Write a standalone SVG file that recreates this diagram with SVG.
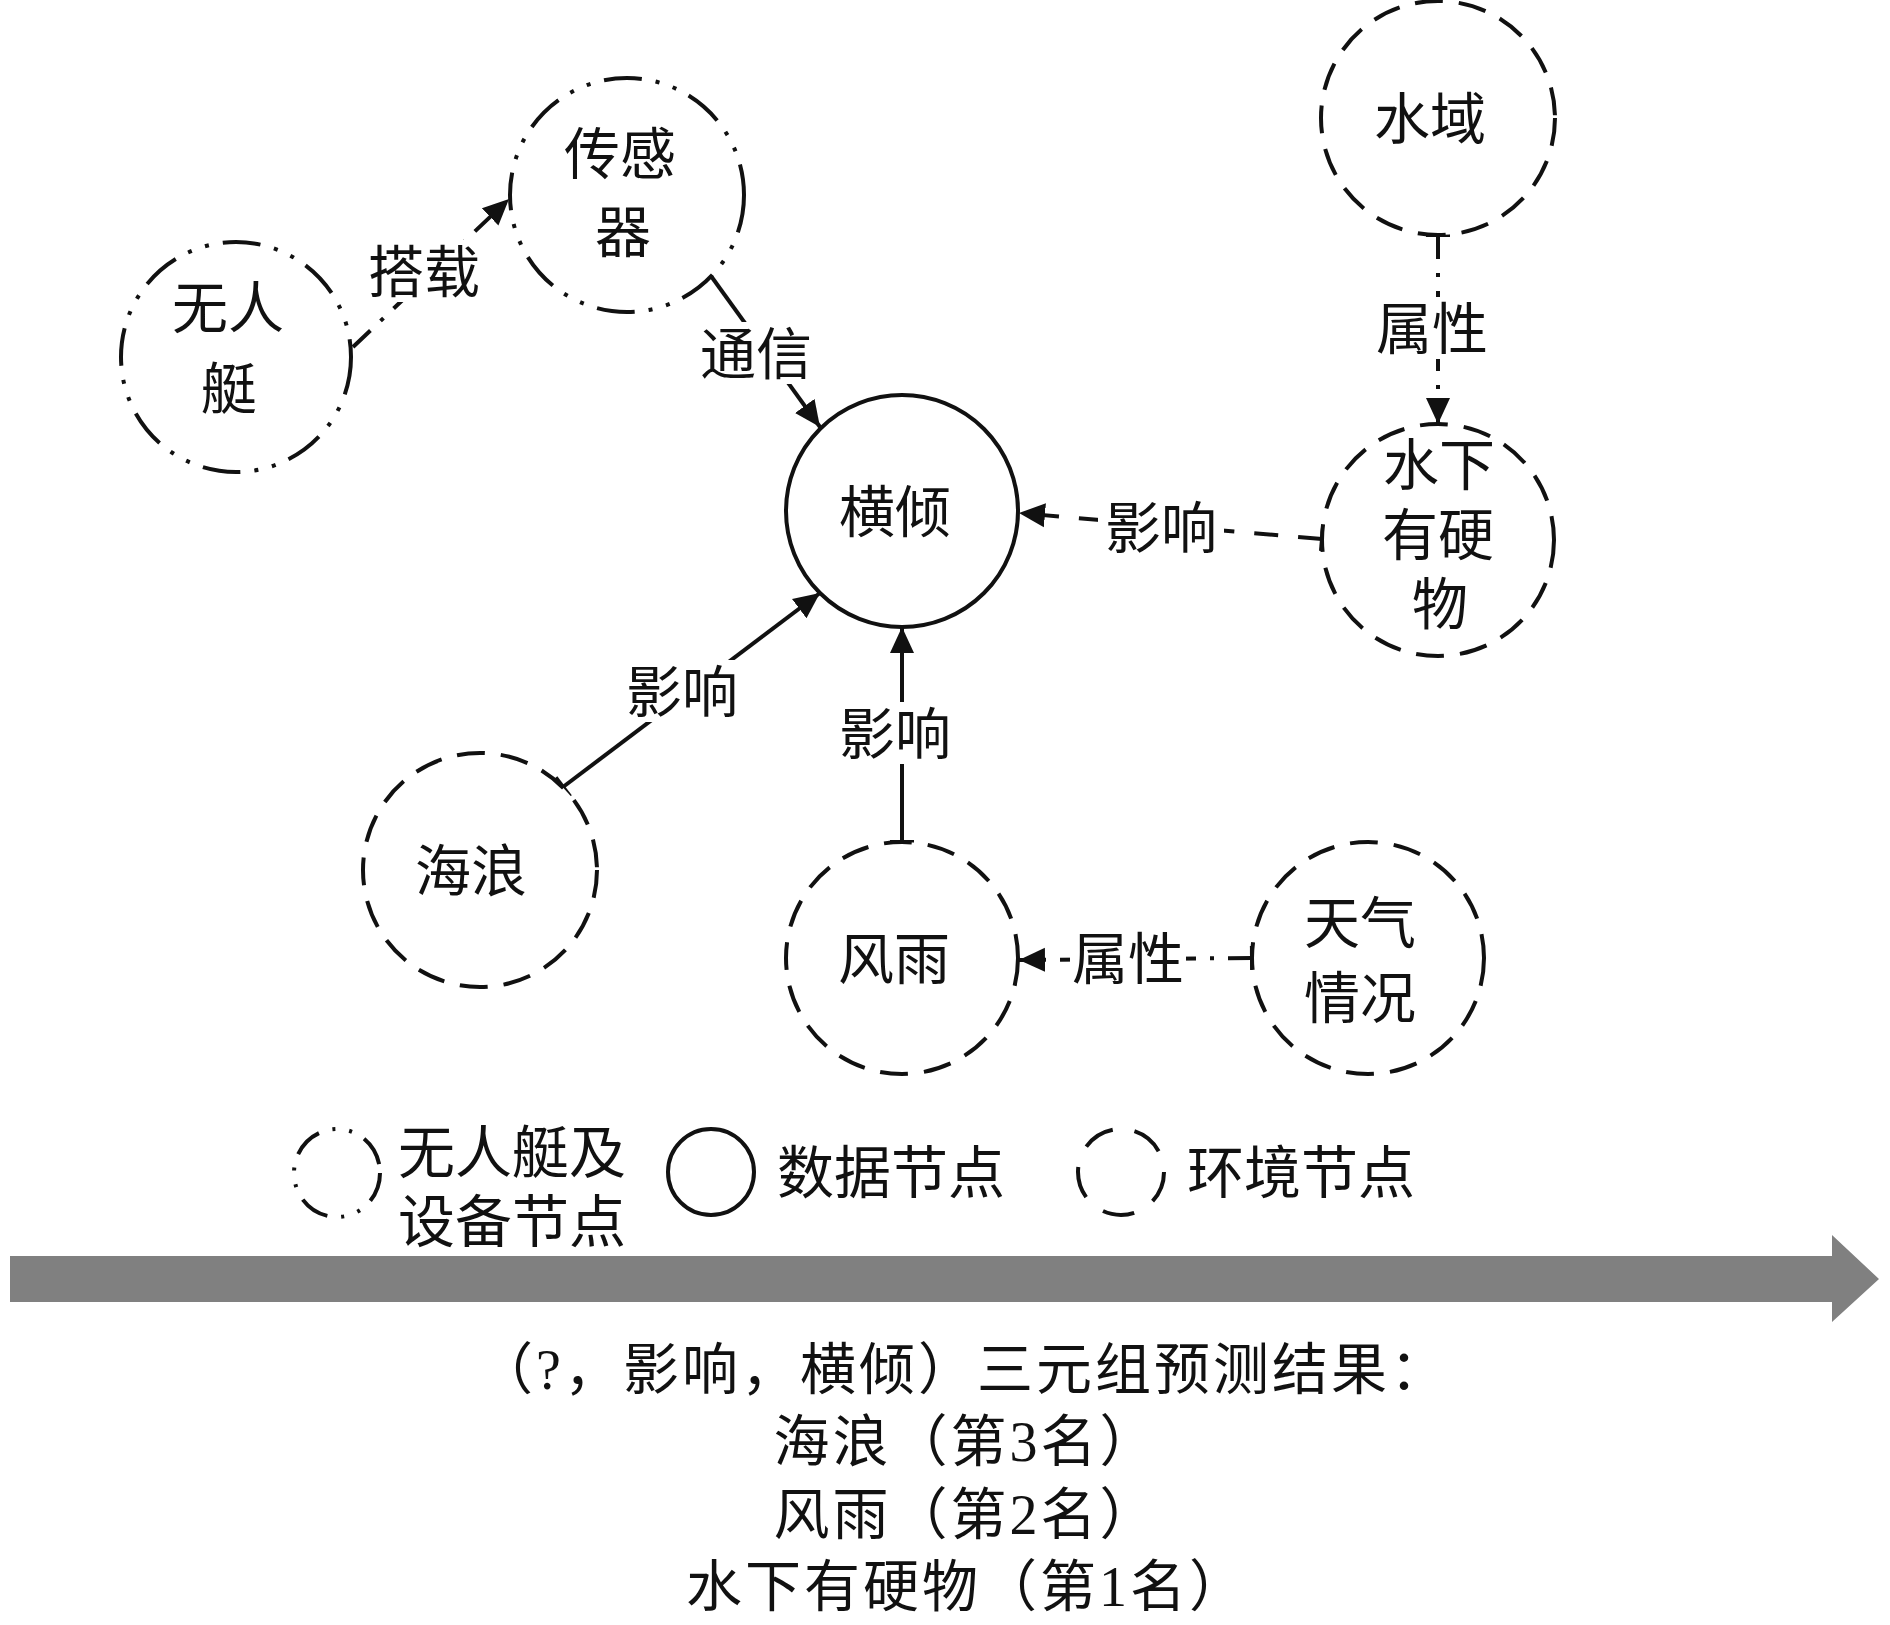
<svg xmlns="http://www.w3.org/2000/svg" width="1890" height="1625" viewBox="0 0 1890 1625">
<style>
text{font-family:"Liberation Serif","Noto Sans CJK SC",serif;fill:#111;}
.lbl{font-size:56px;text-anchor:middle;}
.node{fill:#fff;stroke:#111;stroke-width:4;}
.dev{stroke-dasharray:38 14 4 14 4 14;}
.env{stroke-dasharray:28 16;}
.edge{fill:none;stroke:#111;stroke-width:4;}
.dd{stroke-dasharray:24 14 4 14;}
.dsh{stroke-dasharray:24 20;}
.bg{fill:#fff;}
.res{font-size:56px;text-anchor:middle;letter-spacing:3px;}
</style>
<defs>
<marker id="arr" markerUnits="userSpaceOnUse" markerWidth="28" markerHeight="26" refX="26" refY="13" orient="auto">
<path d="M0,1 L26,13 L0,25 Z" fill="#111"/>
</marker>
<marker id="tick" markerUnits="userSpaceOnUse" markerWidth="6" markerHeight="26" refX="3" refY="13" orient="auto">
<line x1="3" y1="1" x2="3" y2="25" stroke="#111" stroke-width="4"/>
</marker>
</defs>
<rect width="1890" height="1625" fill="#fff"/>

<g id="connectors">
<line class="edge dd" x1="353" y1="347" x2="509" y2="199" marker-end="url(#arr)"/>
<line class="edge" x1="711" y1="276" x2="820" y2="427" marker-end="url(#arr)"/>
<line class="edge dd" x1="1438" y1="235" x2="1438" y2="424" marker-start="url(#tick)" marker-end="url(#arr)"/>
<line class="edge dsh" x1="1322" y1="539" x2="1019" y2="513" marker-start="url(#tick)" marker-end="url(#arr)"/>
<line class="edge" x1="563" y1="787" x2="820" y2="593" marker-start="url(#tick)" marker-end="url(#arr)"/>
<line class="edge" x1="902" y1="842" x2="902" y2="627" marker-start="url(#tick)" marker-end="url(#arr)"/>
<line class="edge dd" x1="1252" y1="958" x2="1019" y2="960" marker-start="url(#tick)" marker-end="url(#arr)"/>

<rect class="bg" x="366" y="240" width="116" height="62"/>
<text class="lbl" x="424" y="292">搭载</text>
<rect class="bg" x="698" y="322" width="116" height="62"/>
<text class="lbl" x="756" y="374">通信</text>
<rect class="bg" x="1374" y="297" width="116" height="62"/>
<text class="lbl" x="1432" y="349">属性</text>
<rect class="bg" x="1098" y="496" width="126" height="62"/>
<text class="lbl" x="1161" y="548">影响</text>
<rect class="bg" x="624" y="660" width="116" height="62"/>
<text class="lbl" x="682" y="712">影响</text>
<rect class="bg" x="837" y="702" width="116" height="62"/>
<text class="lbl" x="895" y="754">影响</text>
<rect class="bg" x="1070" y="927" width="116" height="62"/>
<text class="lbl" x="1128" y="979">属性</text>
</g>

<g id="node-wurenting">
<circle class="node dev" cx="236" cy="357" r="115"/>
<text class="lbl" x="228" y="328">无人</text>
<text class="lbl" x="229" y="409">艇</text>
</g>
<g id="node-chuanganqi">
<circle class="node dev" cx="627" cy="195" r="117"/>
<text class="lbl" x="620" y="174">传感</text>
<text class="lbl" x="623" y="252">器</text>
</g>
<g id="node-hengqing">
<circle class="node" cx="902" cy="511" r="116"/>
<text class="lbl" x="895" y="532">横倾</text>
</g>
<g id="node-shuiyu">
<circle class="node env" cx="1438" cy="118" r="117"/>
<text class="lbl" x="1430" y="139">水域</text>
</g>
<g id="node-shuixia">
<circle class="node env" cx="1438" cy="540" r="116"/>
<text class="lbl" x="1439" y="485">水下</text>
<text class="lbl" x="1438" y="555">有硬</text>
<text class="lbl" x="1440" y="624">物</text>
</g>
<g id="node-hailang">
<circle class="node env" cx="480" cy="870" r="117"/>
<text class="lbl" x="471" y="891">海浪</text>
</g>
<g id="node-fengyu">
<circle class="node env" cx="902" cy="958" r="116"/>
<text class="lbl" x="894" y="979">风雨</text>
</g>
<g id="node-tianqi">
<circle class="node env" cx="1368" cy="958" r="116"/>
<text class="lbl" x="1360" y="943">天气</text>
<text class="lbl" x="1360" y="1018">情况</text>
</g>

<g id="legend">
<ellipse class="node dev" cx="337" cy="1173" rx="43" ry="44" stroke-width="3.5" style="stroke-dasharray:30 14 3 14 3 14"/>
<text x="398" y="1173" font-size="57">无人艇及</text>
<text x="398" y="1242" font-size="57">设备节点</text>
<circle class="node" cx="711" cy="1172" r="43"/>
<text x="777" y="1193" font-size="57">数据节点</text>
<circle class="node env" cx="1121" cy="1172" r="43" stroke-width="3.5" style="stroke-dasharray:32 22"/>
<text x="1187" y="1193" font-size="57">环境节点</text>
</g>

<g id="timeline-arrow">
<path d="M10,1256 L1832,1256 L1832,1235 L1879,1279 L1832,1322 L1832,1302 L10,1302 Z" fill="#808080"/>
</g>

<g id="result">
<text class="res" x="963" y="1389">（?，影响，横倾）三元组预测结果：</text>
<text class="res" x="966" y="1461">海浪（第3名）</text>
<text class="res" x="966" y="1534">风雨（第2名）</text>
<text class="res" x="967" y="1606">水下有硬物（第1名）</text>
</g>
</svg>
